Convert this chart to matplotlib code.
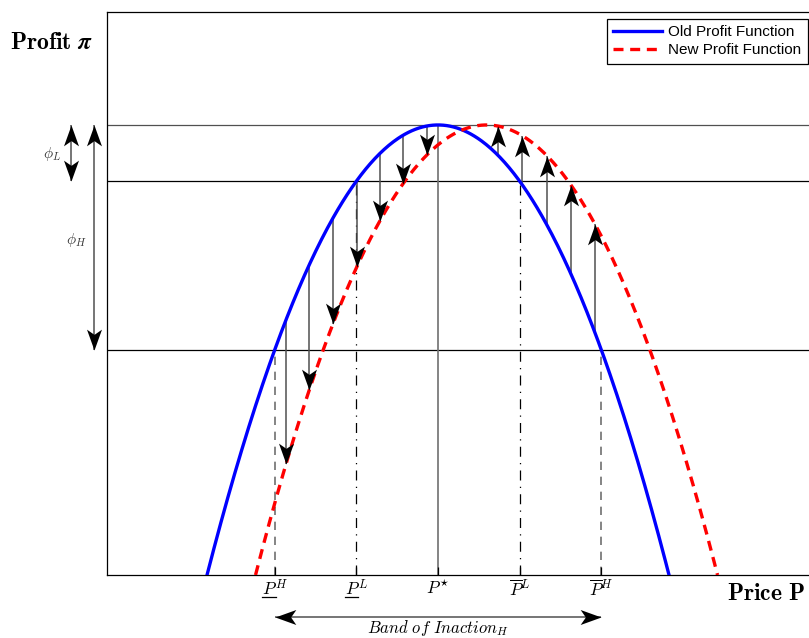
import numpy as np
import matplotlib
matplotlib.use("Agg")
import matplotlib.pyplot as plt
from matplotlib.path import Path

plt.rcParams["mathtext.fontset"] = "cm"

# old / new profit parabolas (peak, curvature, peak location)
pi_max = 1.0
P_star = 0.0
shift = 0.21          # demand shift of the new profit function
phi_L = 0.125
phi_H = 0.5

P_L_lo, P_L_hi = -0.354, 0.354
P_H_lo, P_H_hi = -0.707, 0.707

tick_pos = [P_H_lo, P_L_lo, P_star, P_L_hi, P_H_hi]
tick_labels = [r"$P^H$", r"$P^L$", r"$P^{\star}$",
               r"$\overline{P}^L$", r"$\overline{P}^H$"]
underlined = [r"$P^H$", r"$P^L$"]   # mathtext has no \underline, drawn by hand

arrows_down = [-0.658, -0.558, -0.455, -0.351, -0.251, -0.152, -0.048]
arrows_up = [0.26, 0.364, 0.472, 0.576, 0.68]


def old_profit(p):
    return pi_max - (p - P_star) ** 2


def new_profit(p):
    return pi_max - (p - P_star - shift) ** 2


# stealth-like arrow heads as markers, tip at the data point
def head(direction):
    v = np.array([(0, 0), (-0.36, 1), (0, 0.75), (0.36, 1), (0, 0)], float)
    if direction == "up":
        v[:, 1] *= -1
    elif direction == "left":
        v = np.column_stack([v[:, 1], v[:, 0]])
    elif direction == "right":
        v = np.column_stack([-v[:, 1], v[:, 0]])
    return Path(v, [Path.MOVETO, Path.LINETO, Path.LINETO, Path.LINETO, Path.CLOSEPOLY])


HS = 30
shaft = "#505050"

fig = plt.figure(figsize=(8.09, 6.38), dpi=100)
ax = fig.add_axes([107 / 809, 63 / 638, 702 / 809, 563 / 638])
ax.set_xlim(-1.433, 1.606)
ax.set_ylim(0, 1.251)

# horizontal reference lines
ax.axhline(pi_max, color="#505050", lw=0.9, zorder=1)
ax.axhline(pi_max - phi_L, color="black", lw=0.9, zorder=1)
ax.axhline(pi_max - phi_H, color="black", lw=0.9, zorder=1)

# vertical guides
ax.vlines(P_star, 0, pi_max, color="#707070", lw=1.2, zorder=1)
ax.vlines([P_L_lo, P_L_hi], 0, pi_max - phi_L, color="black", lw=0.9,
          linestyles=(0, (8, 5, 1, 5)), zorder=1)
ax.vlines([P_H_lo, P_H_hi], 0, pi_max - phi_H, color="#707070", lw=1.2,
          linestyles=(0, (5, 4)), zorder=1)

# profit curves
p_old = np.linspace(P_star - 1, P_star + 1, 400)
p_new = p_old + shift
ax.plot(p_old, old_profit(p_old), color="#0000FF", lw=2.4, label="Old Profit Function", zorder=3)
ax.plot(p_new, new_profit(p_new), color="#FF0000", lw=2.4, dashes=(3, 2),
        label="New Profit Function", zorder=3)

# shift arrows
for p in arrows_down:
    ax.vlines(p, new_profit(p), old_profit(p), color=shaft, lw=1.1, zorder=2)
    ax.plot(p, new_profit(p), marker=head("down"), ms=HS, color="black", mew=0, zorder=4)
for p in arrows_up:
    ax.vlines(p, old_profit(p), new_profit(p), color=shaft, lw=1.1, zorder=2)
    ax.plot(p, new_profit(p), marker=head("up"), ms=HS, color="black", mew=0, zorder=4)

# phi arrows on the left, outside the axes
for x, lo, lab, lx, ly in [(-1.588, pi_max - phi_L, r"$\phi_L$", -1.67, 0.935),
                           (-1.488, pi_max - phi_H, r"$\phi_H$", -1.565, 0.745)]:
    ax.vlines(x, lo, pi_max, color=shaft, lw=1.1, clip_on=False)
    ax.plot(x, pi_max, marker=head("up"), ms=HS, color="black", mew=0, clip_on=False)
    ax.plot(x, lo, marker=head("down"), ms=HS, color="black", mew=0, clip_on=False)
    ax.text(lx, ly, lab, fontsize=11, color="#333333", ha="center", va="center")

# band of inaction
yb = -0.094
ax.hlines(yb, P_H_lo, P_H_hi, color=shaft, lw=1.1, clip_on=False)
ax.plot(P_H_lo, yb, marker=head("left"), ms=HS, color="black", mew=0, clip_on=False)
ax.plot(P_H_hi, yb, marker=head("right"), ms=HS, color="black", mew=0, clip_on=False)
ax.text(0.0, -0.117, r"$Band\ of\ Inaction_H$", fontsize=12, ha="center", va="center")

ax.set_xticks(tick_pos)
ax.set_xticklabels(tick_labels, fontsize=12.5)
ax.set_yticks([])
ax.tick_params(axis="x", direction="in", length=6, width=0.9, pad=3)
ax.spines["right"].set_visible(False)
for s in ("left", "top", "bottom"):
    ax.spines[s].set_linewidth(0.9)

# hand-drawn underlines below P of the lower thresholds
fig.canvas.draw()
for lab in ax.get_xticklabels():
    if lab.get_text() in underlined:
        bb = lab.get_window_extent()
        x0 = bb.x0 + 0.5
        x1 = bb.x0 + 0.56 * bb.width
        y = bb.y0 + 2.5
        fig.add_artist(plt.Line2D([x0, x1], [y, y], color="black", lw=0.9,
                                  transform=None))

fig.text(10 / 809, 1 - 42 / 638, r"$\mathbf{Profit}\ \boldsymbol{\pi}$",
         fontsize=17, ha="left", va="center")
fig.text(805 / 809, 1 - 593 / 638, r"$\mathbf{Price\ P}$", fontsize=17,
         ha="right", va="center")

leg = ax.legend(loc="upper right", bbox_to_anchor=(0.998, 0.988),
                prop={"family": "Liberation Sans", "size": 11},
                fancybox=False, edgecolor="black", framealpha=1,
                borderpad=0.4, labelspacing=0.3, handlelength=3.2,
                handletextpad=0.4, borderaxespad=0)
leg.get_frame().set_linewidth(0.9)

fig.savefig("out.png", dpi=100)
